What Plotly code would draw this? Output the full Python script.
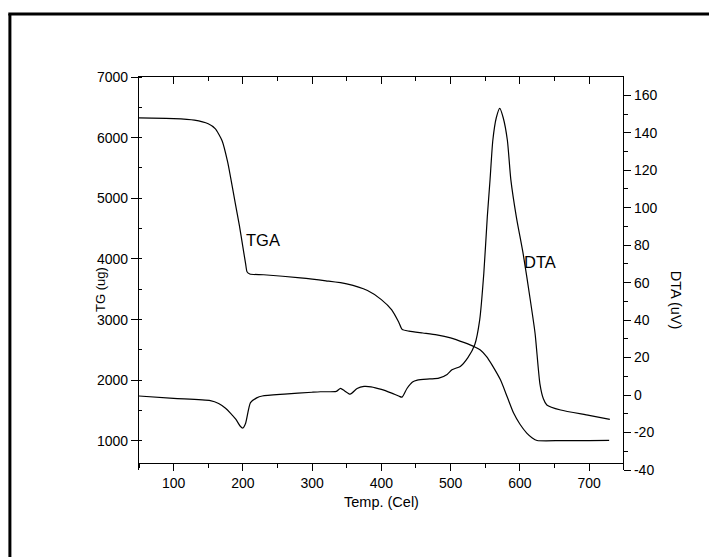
import plotly.graph_objects as go

# TGA curve (left axis, ug)
tga_T = [50, 100, 130, 150, 160, 170, 178, 183, 189, 195, 200, 204, 206, 210, 230, 283,
         320, 350, 380, 400, 415, 425, 430, 440, 460, 480, 500, 520, 535, 543, 552,
         560, 572, 582, 591, 600, 610, 618, 625, 660, 700, 729]
tga_v = [6325, 6315, 6290, 6230, 6150, 5950, 5600, 5300, 4920, 4550, 4200, 3920, 3790, 3752, 3740, 3690,
         3640, 3590, 3480, 3330, 3160, 2960, 2840, 2810, 2780, 2750, 2700, 2620, 2550, 2500, 2390,
         2250, 2007, 1720, 1460, 1280, 1130, 1050, 1008, 1005, 1006, 1008]

# DTA curve (right axis, uV)
dta_T = [50, 100, 153, 165, 175, 182, 190, 196, 200, 204, 211, 220, 228, 260, 300, 312,
         335, 341, 347, 355, 365, 375, 385, 400, 415, 425, 430, 437, 445, 452, 470, 483,
         495, 502, 514, 525, 535, 542, 548, 553, 557, 561, 566, 571, 576, 582, 587,
         595, 605, 615, 622, 629, 634, 639, 659, 700, 730]
dta_d = [-0.5, -1.8, -3, -4.5, -7, -9.6, -13, -16.5, -17.6, -15, -4, -1.5, -0.5, 0.5, 1.5, 1.75,
         2.0, 3.6, 2.2, 0.5, 3.5, 4.6, 4.4, 3.0, 1.0, -0.5, -1.1, 3.5, 7.0, 8.0, 8.6, 9.0,
         11, 13.5, 15.3, 20, 27, 40, 65, 95, 115, 136, 148, 153, 148, 136, 115,
         95, 75, 51, 33, 6, -2, -5.3, -8, -10.8, -13]

x_ticks = [100, 200, 300, 400, 500, 600, 700]
tg_ticks = [1000, 2000, 3000, 4000, 5000, 6000, 7000]
dta_ticks = [-40, -20, 0, 20, 40, 60, 80, 100, 120, 140, 160]
dta_labels = [str(v) for v in dta_ticks]  # plain hyphen minus as in the reference

font = "Liberation Sans, Arial, sans-serif"
OFF = 8  # page body margin in the browser
FW, FH = 717 - OFF, 557 - OFF
# plot area in screen pixels
L, R, T, B = 138.7, 622.7, 76.7, 470.0
W, H = R - L, B - T

def px(xp):
    return (xp - L) / W

def py(yp):
    return (B - yp) / H

fig = go.Figure()
fig.add_trace(go.Scatter(x=tga_T, y=tga_v, mode="lines", line=dict(color="black", width=1.2, shape="spline", smoothing=0.6),
                         xaxis="x", yaxis="y", showlegend=False, hoverinfo="skip"))
fig.add_trace(go.Scatter(x=dta_T, y=dta_d, mode="lines", line=dict(color="black", width=1.2, shape="spline", smoothing=0.6),
                         xaxis="x", yaxis="y2", showlegend=False, hoverinfo="skip"))
fig.add_trace(go.Scatter(x=[None], y=[None], xaxis="x2", yaxis="y", showlegend=False))

tickfont = dict(family=font, size=14, color="black")
fig.update_layout(
    width=FW, height=FH,
    margin=dict(l=L - OFF, r=FW - (R - OFF), t=T - OFF, b=FH - (B - OFF), pad=0, autoexpand=False),
    paper_bgcolor="white", plot_bgcolor="white",
    showlegend=False,
    xaxis=dict(range=[50, 749], anchor="free", position=py(463.3), showline=True, linecolor="black", linewidth=1.3,
               ticks="outside", ticklen=7, tickwidth=1.3, tickcolor="black", tickvals=x_ticks,
               minor=dict(ticks="outside", ticklen=4, tickwidth=1.3, tickcolor="black", dtick=50, tick0=0),
               showgrid=False, zeroline=False, tickfont=tickfont, automargin=False),
    xaxis2=dict(range=[50, 749], overlaying="x", side="top", anchor="y", showline=True, linecolor="black", linewidth=1.3,
                ticks="inside", ticklen=7, tickwidth=1.3, tickcolor="black", tickvals=x_ticks,
                minor=dict(ticks="inside", ticklen=3.5, tickwidth=1.3, tickcolor="black", dtick=50, tick0=0),
                showticklabels=False, showgrid=False, zeroline=False, automargin=False),
    yaxis=dict(range=[521, 7000], showline=True, linecolor="black", linewidth=1.3,
               ticks="outside", ticklen=7, tickwidth=1.3, tickcolor="black", tickvals=tg_ticks,
               minor=dict(ticks="inside", ticklen=3, tickwidth=1.3, tickcolor="black", dtick=500, tick0=0),
               showgrid=False, zeroline=False, tickfont=tickfont, automargin=False),
    yaxis2=dict(range=[-40, 169.75], overlaying="y", side="right", anchor="x", showline=True, linecolor="black", linewidth=1.3,
                ticks="outside", ticklen=7, tickwidth=1.3, tickcolor="black", tickvals=dta_ticks, ticktext=dta_labels,
                minor=dict(ticks="outside", ticklen=3.5, tickwidth=1.3, tickcolor="black", dtick=10, tick0=0),
                showgrid=False, zeroline=False, tickfont=tickfont, automargin=False),
)

def note(text, x, y, size, angle=0):
    fig.add_annotation(text=text, x=px(x), y=py(y), xref="paper", yref="paper", showarrow=False,
                       xanchor="center", yanchor="middle", textangle=angle,
                       font=dict(family=font, size=size, color="black"))

note("Temp. (Cel)", 381, 502, 14.5)
note("TG (ug)", 100, 289.5, 13, -90)
note("DTA (uV)", 676, 300, 14.5, 90)
note("TGA", 263, 240, 16.5)
note("DTA", 540, 262, 16.5)

# outer frame (left and top edges)
fig.add_shape(type="line", xref="paper", yref="paper", x0=px(9.6), x1=px(9.6), y0=py(13.7), y1=py(560), line=dict(color="black", width=3))
fig.add_shape(type="line", xref="paper", yref="paper", x0=px(8), x1=px(720), y0=py(13.7), y1=py(13.7), line=dict(color="black", width=3))

fig.write_html("out.html")
